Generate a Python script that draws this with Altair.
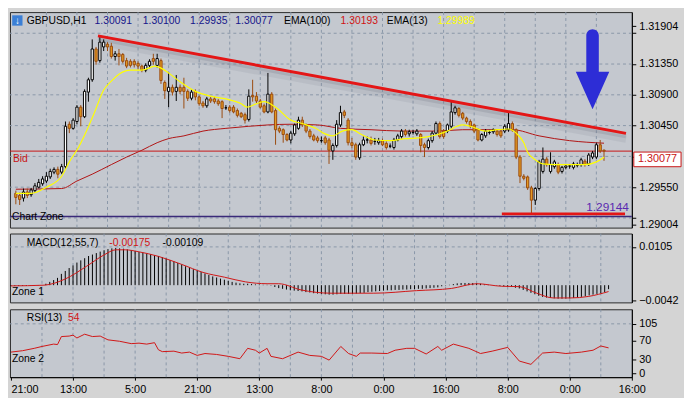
import altair as alt
import pandas as pd
import numpy as np

# ---------------- data ----------------
opens = [1.2946,1.2943,1.2939,1.2948,1.2944,1.2950,1.2955,1.2960,1.2964,1.2970,
         1.2977,1.2981,1.2977,1.2985,1.3047,1.3041,1.3051,1.3072,1.3058,1.3094,
         1.3112,1.3157,1.3140,1.3160,1.3164,1.3161,1.3146,1.3150,1.3149,1.3140,
         1.3139,1.3139,1.3136,1.3132,1.3126,1.3133,1.3143,1.3133,1.3140,1.3108,
         1.3095,1.3101,1.3095,1.3101,1.3101,1.3095,1.3085,1.3095,1.3087,1.3078,
         1.3074,1.3084,1.3084,1.3081,1.3080,1.3071,1.3072,1.3072,1.3067,1.3063,
         1.3061,1.3054,1.3089,1.3088,1.3081,1.3074,1.3065,1.3091,1.3067,1.3041,
         1.3039,1.3032,1.3024,1.3033,1.3041,1.3053,1.3046,1.3037,1.3030,1.3027,
         1.3023,1.3027,1.3024,1.3008,1.3016,1.3046,1.3065,1.3053,1.3020,1.3017,
         1.2998,1.3017,1.3024,1.3024,1.3022,1.3020,1.3023,1.3019,1.3015,1.3013,
         1.3024,1.3029,1.3037,1.3033,1.3035,1.3033,1.3032,1.3017,1.3013,1.3023,
         1.3034,1.3048,1.3037,1.3037,1.3044,1.3064,1.3070,1.3063,1.3056,1.3051,
         1.3046,1.3039,1.3024,1.3030,1.3035,1.3036,1.3037,1.3037,1.3037,1.3039,
         1.3048,1.3039,1.2999,1.2971,1.2970,1.2954,1.2936,1.2953,1.2978,1.2996,
         1.2978,1.2985,1.2988,1.2978,1.2984,1.2986,1.2984,1.2987,1.2988,1.2993,
         1.2989,1.2999,1.2999,1.3017,1.30091]
highs = [1.2950,1.2947,1.2953,1.2953,1.2954,1.2961,1.2967,1.2971,1.2977,1.2982,
         1.2984,1.2985,1.2989,1.3051,1.3051,1.3056,1.3075,1.3075,1.3098,1.3115,
         1.3171,1.3160,1.3175,1.3171,1.3167,1.3166,1.3154,1.3157,1.3151,1.3144,
         1.3142,1.3142,1.3139,1.3134,1.3136,1.3142,1.3150,1.3150,1.3143,1.3111,
         1.3123,1.3105,1.3119,1.3105,1.3115,1.3098,1.3098,1.3098,1.3089,1.3081,
         1.3087,1.3087,1.3087,1.3084,1.3082,1.3075,1.3075,1.3075,1.3070,1.3065,
         1.3064,1.3098,1.3112,1.3094,1.3084,1.3077,1.3122,1.3094,1.3070,1.3044,
         1.3041,1.3034,1.3037,1.3048,1.3058,1.3058,1.3048,1.3040,1.3033,1.3030,
         1.3029,1.3030,1.3027,1.3019,1.3053,1.3074,1.3068,1.3056,1.3027,1.3020,
         1.3020,1.3029,1.3029,1.3029,1.3027,1.3027,1.3026,1.3022,1.3019,1.3027,
         1.3033,1.3040,1.3040,1.3039,1.3039,1.3040,1.3034,1.3020,1.3026,1.3037,
         1.3051,1.3051,1.3040,1.3048,1.3080,1.3074,1.3072,1.3065,1.3058,1.3054,
         1.3048,1.3041,1.3034,1.3040,1.3039,1.3041,1.3040,1.3040,1.3047,1.3065,
         1.3051,1.3041,1.3002,1.2974,1.2972,1.2957,1.2955,1.2995,1.3013,1.2999,
         1.3006,1.2995,1.2991,1.2986,1.2989,1.2989,1.2992,1.2991,1.2998,1.2996,
         1.3005,1.3008,1.3020,1.3024,1.30100]
lows = [1.2930,1.2929,1.2934,1.2939,1.2941,1.2947,1.2953,1.2957,1.2961,1.2967,
        1.2974,1.2968,1.2974,1.2982,1.3034,1.3039,1.3047,1.3044,1.3056,1.3080,
        1.3109,1.3134,1.3137,1.3154,1.3154,1.3143,1.3140,1.3133,1.3136,1.3129,
        1.3130,1.3130,1.3127,1.3123,1.3123,1.3129,1.3134,1.3130,1.3106,1.3084,
        1.3072,1.3089,1.3081,1.3091,1.3070,1.3081,1.3082,1.3082,1.3074,1.3071,
        1.3071,1.3078,1.3077,1.3074,1.3056,1.3068,1.3064,1.3063,1.3057,1.3056,
        1.3048,1.3051,1.3080,1.3078,1.3070,1.3063,1.3063,1.3063,1.3017,1.3034,
        1.3020,1.3022,1.3019,1.3030,1.3039,1.3043,1.3034,1.3026,1.3022,1.3020,
        1.3020,1.3017,1.2989,1.2995,1.3013,1.3043,1.3056,1.3016,1.3012,1.2995,
        1.2995,1.3015,1.3019,1.3016,1.3017,1.3017,1.3015,1.3010,1.3012,1.3010,
        1.3022,1.3026,1.3029,1.3029,1.3032,1.3030,1.3006,1.2999,1.3010,1.3020,
        1.3032,1.3026,1.3026,1.3034,1.3041,1.3061,1.3057,1.3053,1.3048,1.3041,
        1.3034,1.3022,1.3022,1.3027,1.3032,1.3033,1.3029,1.3027,1.3034,1.3036,
        1.3036,1.2996,1.2961,1.2965,1.2951,1.29144,1.2929,1.2950,1.2975,1.2985,
        1.2975,1.2982,1.2974,1.2975,1.2981,1.2982,1.2981,1.2984,1.2985,1.2985,
        1.2986,1.2996,1.2996,1.3005,1.29935]
closes = [1.2940,1.2937,1.2948,1.2943,1.2951,1.2957,1.2962,1.2967,1.2971,1.2978,
          1.2981,1.2974,1.2985,1.3044,1.3041,1.3053,1.3072,1.3058,1.3095,1.3112,
          1.3157,1.3139,1.3167,1.3167,1.3160,1.3146,1.3150,1.3146,1.3139,1.3132,
          1.3133,1.3134,1.3132,1.3126,1.3133,1.3139,1.3139,1.3143,1.3111,1.3096,
          1.3101,1.3094,1.3101,1.3095,1.3095,1.3085,1.3094,1.3087,1.3077,1.3074,
          1.3084,1.3081,1.3080,1.3077,1.3070,1.3071,1.3067,1.3065,1.3060,1.3058,
          1.3053,1.3088,1.3087,1.3081,1.3072,1.3065,1.3091,1.3065,1.3039,1.3037,
          1.3032,1.3024,1.3034,1.3046,1.3053,1.3046,1.3037,1.3029,1.3024,1.3023,
          1.3023,1.3020,1.3009,1.3016,1.3047,1.3064,1.3060,1.3020,1.3016,1.2999,
          1.3017,1.3024,1.3024,1.3019,1.3022,1.3023,1.3017,1.3013,1.3015,1.3024,
          1.3030,1.3037,1.3032,1.3036,1.3035,1.3037,1.3016,1.3013,1.3023,1.3034,
          1.3048,1.3029,1.3029,1.3046,1.3065,1.3071,1.3060,1.3056,1.3051,1.3044,
          1.3037,1.3024,1.3032,1.3037,1.3035,1.3039,1.3032,1.3030,1.3044,1.3048,
          1.3039,1.2999,1.2971,1.2968,1.2954,1.2936,1.2953,1.2992,1.2996,1.2988,
          1.2988,1.2992,1.2977,1.2984,1.2986,1.2986,1.2989,1.2987,1.2995,1.2988,
          1.3002,1.3005,1.3017,1.3008,1.30077]

ema100_idx = [0, 12, 16, 20, 25, 29, 33, 37, 40, 44, 49, 55, 61, 66, 72, 79, 85, 93,
              101, 110, 117, 124, 130, 137, 145, 154]
ema100_val = [1.2952, 1.2953, 1.2964, 1.2974, 1.2988, 1.2999, 1.3009, 1.3020, 1.3026,
              1.3030, 1.3037, 1.3041, 1.3044, 1.3046, 1.3047, 1.3046, 1.3041, 1.3039,
              1.3037, 1.3037, 1.3039, 1.3039, 1.3039, 1.3030, 1.3023, 1.30193]

ema13_idx = [0, 4, 8, 12, 14, 16.5, 18.5, 20.5, 23, 25, 27, 30, 33, 36.5, 38, 40, 43, 47,
             51, 55, 59, 60.5, 63, 65, 68, 72, 75, 78.5, 80.5, 83, 85.5, 88, 90.5, 94,
             98, 102, 105.5, 108, 110.5, 113, 115.5, 117, 119, 123, 126, 129, 131, 133,
             134, 136, 138, 141, 145, 149, 152, 154]
ema13_val = [1.2946, 1.2946, 1.2955, 1.2971, 1.2992, 1.3014, 1.3037, 1.3063, 1.3097,
             1.3110, 1.3120, 1.3126, 1.3126, 1.3132, 1.3129, 1.3122, 1.3109, 1.3095,
             1.3088, 1.3084, 1.3077, 1.3072, 1.3077, 1.3080, 1.3072, 1.3053, 1.3048,
             1.3041, 1.3034, 1.3030, 1.3037, 1.3039, 1.3032, 1.3024, 1.3023, 1.3026,
             1.3027, 1.3029, 1.3032, 1.3037, 1.3044, 1.3046, 1.3044, 1.3037, 1.3039,
             1.3040, 1.3034, 1.3020, 1.3006, 1.2995, 1.2989, 1.2988, 1.2988, 1.2988,
             1.2992, 1.29989]

trend_idx = [21.5, 159.75]
trend_val = [1.31762, 1.30337]
support_idx = [127.25, 159.5]
support_val = [1.29160, 1.29160]
zone_line = 1.29120
low_mark = 1.29144
bid_price = closes[-1]
main_grid = [1.3180, 1.3135, 1.3090, 1.3045, 1.3000, 1.2955, 1.2910]
main_ticks = [1.31904, 1.3180, 1.3135, 1.3090, 1.3045, 1.3000, 1.2955, 1.2910, 1.29004]
main_labels = ["1.31904", "1.31350", "1.30900", "1.30450", "1.29550", "1.29004"]

macd_hist = [-0.0002,-0.0002,-0.0002,-0.0002,-0.0002,-0.0001,-0.0001,-0.0001,0.0000,0.0004,
             0.0009,0.0014,0.0020,0.0031,0.0039,0.0047,0.0054,0.0062,0.0068,0.0074,
             0.0080,0.0084,0.0088,0.0092,0.0096,0.0099,0.0101,0.0102,0.0101,0.0100,
             0.0098,0.0096,0.0094,0.0091,0.0089,0.0087,0.0085,0.0082,0.0080,0.0077,
             0.0073,0.0069,0.0065,0.0061,0.0057,0.0052,0.0048,0.0044,0.0040,0.0036,
             0.0032,0.0028,0.0024,0.0021,0.0018,0.0015,0.0012,0.0009,0.0007,0.0005,
             0.0004,0.0004,0.0003,0.0002,0.0002,0.0001,0.0001,-0.0001,-0.0005,-0.0008,
             -0.0010,-0.0012,-0.0014,-0.0015,-0.0016,-0.0017,-0.0019,-0.0020,-0.0022,-0.0023,
             -0.0024,-0.0025,-0.0026,-0.0026,-0.0025,-0.0024,-0.0024,-0.0024,-0.0024,-0.0023,
             -0.0022,-0.0021,-0.0019,-0.0018,-0.0017,-0.0016,-0.0015,-0.0014,-0.0014,-0.0013,
             -0.0013,-0.0012,-0.0012,-0.0011,-0.0011,-0.0010,-0.0010,-0.0009,-0.0008,-0.0007,
             -0.0006,-0.0003,-0.0001,0.0001,0.0003,0.0005,0.0006,0.0006,0.0006,0.0006,
             0.0005,0.0004,0.0002,0.0001,0.0000,-0.0001,-0.0002,-0.0003,-0.0004,-0.0005,
             -0.0007,-0.0009,-0.0013,-0.0017,-0.0021,-0.0025,-0.0029,-0.0032,-0.0034,-0.0035,
             -0.0036,-0.0037,-0.0037,-0.0037,-0.0036,-0.0035,-0.0034,-0.0032,-0.0030,-0.0028,
             -0.0026,-0.0024,-0.0022,-0.0019,-0.00109]
sig_idx = [0, 8.5, 14, 19.5, 24, 27, 29.5, 32.75, 38, 44, 49.5, 55, 60.5, 66, 69, 74.75,
           82.5, 93.5, 104.5, 113.5, 120, 126.5, 131, 135.5, 139.75, 144.25, 148.75, 154]
sig_val = [-0.0002, 0.0, 0.0017, 0.0052, 0.0083, 0.0097, 0.0097, 0.0092, 0.0079, 0.0057,
           0.0035, 0.0022, 0.0009, 0.0004, 0.0004, -0.0013, -0.0022, -0.0022, -0.0015,
           -0.0009, 0.0004, -0.0003, -0.0004, -0.0022, -0.0035, -0.0035, -0.0031, -0.00175]

rsi_idx = [0, 3, 6, 8, 11, 12, 13, 15, 16, 17, 19, 21, 23, 25, 28, 31, 33, 35, 37, 38,
           39, 42, 44, 46, 48, 50, 53, 56, 59, 61, 63, 64, 66, 67, 70, 74, 77, 80, 82, 85,
           87, 89, 90, 93, 97, 99, 102, 104, 107, 110, 111, 114, 118, 121, 124, 128, 131,
           134, 137, 140, 143, 147, 150, 152, 154]
rsi_val = [45, 48, 53, 57, 62, 61, 78, 79, 81, 75, 83, 78, 79, 71, 68, 63, 64, 62, 65, 50,
           46, 47, 43, 45, 38, 42, 40, 36, 31, 53, 49, 43, 53, 36, 31, 45, 38, 36, 28, 57,
           42, 36, 43, 43, 42, 49, 53, 53, 41, 57, 49, 62, 53, 42, 47, 55, 26, 19, 43, 45,
           42, 45, 49, 58, 54]

time_ticks = [0, 16, 32, 48, 64, 80, 96, 112, 128, 144, 160]
time_labels = ["21:00", "13:00", "5:00", "21:00", "13:00", "8:00", "0:00", "16:00",
               "8:00", "0:00", "16:00"]
vgrid = [8, 16, 24, 32, 40, 48, 56, 64, 72, 80, 88, 96, 104, 112, 120, 128, 136, 144, 152]

# ---------------- styling ----------------
FONT = "Liberation Sans"
FS = 10.5
FA = 11
BG = "#d4d4d4"
PANEL = "#c4c8cf"
GRID = "#8a97a8"
W = 632
H1, H2, H3 = 219, 70, 69

df = pd.DataFrame({"i": list(range(len(closes))), "open": opens, "high": highs,
                   "low": lows, "close": closes})
df["dir"] = np.where(df["close"] > df["open"], "up",
                     np.where(df["close"] < df["open"], "down", "flat"))

XS = alt.Scale(domain=[-0.25, 160], nice=False, zero=False)
XN = alt.X("i:Q", scale=XS, axis=None)

Y1S = alt.Scale(domain=[1.28959, 1.32109], nice=False, zero=False)
lab_arr = "[" + ",".join("'%s'" % s for s in main_labels) + "]"
Y1AX = alt.Axis(orient="right", values=main_ticks, format=".5f", title=None, grid=False,
                labelExpr="indexof(%s, datum.label) >= 0 ? datum.label : ''" % lab_arr,
                labelOverlap=False, tickSize=4, labelPadding=3)


def Y1(field):
    return alt.Y(field + ":Q", scale=Y1S, axis=Y1AX)


one = pd.DataFrame({"k": [0]})


def label(text, x, y, color="#000000", align="left", size=FS, weight="normal"):
    return alt.Chart(one).mark_text(text=text, align=align, baseline="middle", font=FONT,
                                    fontSize=size, color=color, fontWeight=weight).encode(
        x=alt.value(x), y=alt.value(y))


dir_dom = ["up", "down", "flat"]
stroke_scale = alt.Scale(domain=dir_dom, range=["#000000", "#9a4a0e", "#000000"])
fill_scale = alt.Scale(domain=dir_dom, range=["#ffffff", "#e29a22", "#000000"])

vg = alt.Chart(pd.DataFrame({"i": vgrid})).mark_rule(color=GRID, strokeDash=[3, 3],
                                                     strokeWidth=1)

# ---------------- main panel ----------------
trend_df = pd.DataFrame({"i": trend_idx, "p": trend_val})
m_vgrid = vg.encode(x=XN)
m_hgrid = alt.Chart(pd.DataFrame({"p": main_grid})).mark_rule(
    color=GRID, strokeDash=[3, 3], strokeWidth=1).encode(y=Y1("p"))
m_shadow1 = alt.Chart(trend_df).mark_line(
    color="#6e7480", strokeWidth=7, opacity=0.12, yOffset=6).encode(x=XN, y=Y1("p"))
m_shadow2 = alt.Chart(trend_df).mark_line(
    color="#6e7480", strokeWidth=4, opacity=0.22, yOffset=3).encode(x=XN, y=Y1("p"))
m_bid = alt.Chart(pd.DataFrame({"p": [bid_price]})).mark_rule(
    color="#c81414", strokeWidth=1).encode(y=Y1("p"))
m_zone = alt.Chart(pd.DataFrame({"p": [zone_line]})).mark_rule(
    color="#3a2a7a", strokeWidth=1.5).encode(y=Y1("p"))
m_ema100 = alt.Chart(pd.DataFrame({"i": ema100_idx, "p": ema100_val})).mark_line(
    color="#b01212", strokeWidth=1, interpolate="monotone").encode(x=XN, y=Y1("p"))
m_ema13 = alt.Chart(pd.DataFrame({"i": ema13_idx, "p": ema13_val})).mark_line(
    color="#ffff00", strokeWidth=1.2, interpolate="monotone").encode(x=XN, y=Y1("p"))
m_wick = alt.Chart(df).mark_rule(strokeWidth=1).encode(
    x=XN, y=Y1("low"), y2="high:Q",
    stroke=alt.Stroke("dir:N", scale=stroke_scale, legend=None))
m_body = alt.Chart(df).mark_bar(size=2.3, strokeWidth=1).encode(
    x=XN, y=Y1("open"), y2="close:Q",
    fill=alt.Fill("dir:N", scale=fill_scale, legend=None),
    stroke=alt.Stroke("dir:N", scale=stroke_scale, legend=None))
m_trend = alt.Chart(trend_df).mark_line(
    color="#e41616", strokeWidth=3).encode(x=XN, y=Y1("p"))
m_support = alt.Chart(pd.DataFrame({"i": support_idx, "p": support_val})).mark_line(
    color="#e41616", strokeWidth=3).encode(x=XN, y=Y1("p"))

arrow_path = ("M-0.157,-0.85 A0.157,0.157 0 0 1 0.157,-0.85 L0.157,0.06 L0.42,0.06 "
              "L0,1 L-0.42,0.06 L-0.157,0.06 Z")
m_arrow = alt.Chart(pd.DataFrame({"i": [151], "p": [1.31273]})).mark_point(
    shape=arrow_path, size=6561, filled=True, color="#2d2dd6", opacity=1).encode(
    x=XN, y=Y1("p"))

tag_path = "M-1,0.04 L1,0.04 L1,0.66 L-1,0.66 Z"
bid_df = pd.DataFrame({"p": [bid_price], "t": ["%.5f" % bid_price]})
m_tagbox = alt.Chart(bid_df).mark_point(
    shape=tag_path, size=2304, filled=True, fill="#ffffff", stroke="#c81414",
    strokeWidth=1, opacity=1).encode(x=alt.value(W + 26), y=Y1("p"))
m_tagtxt = alt.Chart(bid_df).mark_text(font=FONT, fontSize=FA, color="#c81414",
                                       align="center", baseline="middle", dy=8).encode(
    x=alt.value(W + 26), y=Y1("p"), text="t:N")
m_bidtxt = alt.Chart(bid_df).mark_text(text="Bid", font=FONT, fontSize=FS, color="#c81414",
                                       align="left", baseline="middle", dy=8).encode(
    x=alt.value(3), y=Y1("p"))
low_df = pd.DataFrame({"p": [low_mark], "t": ["%.5f" % low_mark]})
m_lowtxt = alt.Chart(low_df).mark_text(font=FONT, fontSize=12, color="#5a2ab0",
                                       align="right", baseline="middle", dy=-8).encode(
    x=alt.value(W - 3), y=Y1("p"), text="t:N")

m_icon = alt.Chart(one).mark_point(shape="square", size=110, filled=True, color="#3b7fd6",
                                   opacity=1).encode(x=alt.value(7.5), y=alt.value(8.5))
m_icon_arrow = label("\u2193", 7.5, 9, color="#ffffff", align="center", size=10,
                     weight="bold")

header = [
    ("GBPUSD,H1", 17, "#000000"),
    ("%.5f" % opens[-1], 86, "#16168a"),
    ("%.5f" % highs[-1], 135, "#16168a"),
    ("%.5f" % lows[-1], 183, "#16168a"),
    ("%.5f" % closes[-1], 229, "#16168a"),
    ("EMA(100)", 278.5, "#000000"),
    ("%.5f" % ema100_val[-1], 336, "#d01414"),
    ("EMA(13)", 383, "#000000"),
    ("%.5f" % ema13_val[-1], 434.5, "#ffff00"),
]
m_header = [label(t, x, 9, color=c) for t, x, c in header]
m_chartzone = label("Chart Zone", 2, 208)

main = alt.layer(m_vgrid, m_hgrid, m_shadow1, m_shadow2, m_ema100, m_bid, m_zone, m_wick,
                 m_body, m_ema13, m_trend, m_support, m_arrow, m_tagbox, m_tagtxt,
                 m_bidtxt, m_lowtxt, m_icon, m_icon_arrow, m_chartzone,
                 *m_header).properties(width=W, height=H1)

# ---------------- MACD panel ----------------
Y2S = alt.Scale(domain=[-0.00472, 0.01417], nice=False, zero=False)
Y2AX = alt.Axis(orient="right", values=[0.0105, -0.0042], format=".4f", title=None,
                grid=False, tickSize=4, labelPadding=3, labelOverlap=False)
macd_df = pd.DataFrame({"i": list(range(len(macd_hist))), "m": macd_hist})
d_vgrid = vg.encode(x=XN)
d_hgrid = alt.Chart(pd.DataFrame({"v": [0.0105]})).mark_rule(
    color=GRID, strokeDash=[3, 3], strokeWidth=1).encode(
    y=alt.Y("v:Q", scale=Y2S, axis=Y2AX))
d_hist = alt.Chart(macd_df).mark_rule(color="#000000", strokeWidth=1).encode(
    x=XN, y=alt.Y("m:Q", scale=Y2S, axis=Y2AX), y2=alt.datum(0))
d_sig = alt.Chart(pd.DataFrame({"i": sig_idx, "v": sig_val})).mark_line(
    color="#d01414", strokeWidth=1, interpolate="monotone").encode(
    x=XN, y=alt.Y("v:Q", scale=Y2S, axis=Y2AX))
d_texts = [label("MACD(12,55,7)", 17, 10),
           label("%.5f" % sig_val[-1], 101, 10, color="#d01414"),
           label("%.5f" % macd_hist[-1], 155, 10),
           label("Zone 1", 2, 59)]
macd = alt.layer(d_vgrid, d_hgrid, d_hist, d_sig, *d_texts).properties(width=W, height=H2)

# ---------------- RSI panel ----------------
Y3S = alt.Scale(domain=[-8.2, 135.9], nice=False, zero=False)
Y3AX = alt.Axis(orient="right", values=[105, 70, 30, 0], format="d", title=None,
                grid=False, tickSize=4, labelPadding=3, labelOverlap=False)
tl_arr = "[" + ",".join("'%s'" % s for s in time_labels) + "]"
XAX = alt.Axis(values=time_ticks, labelExpr="%s[round(datum.value / 16)]" % tl_arr,
               title=None, grid=False, tickSize=3, labelPadding=4, labelOverlap=False,
               labelAlign={"condition": {"test": "datum.value == 0", "value": "left"},
                           "value": "center"})
XR = alt.X("i:Q", scale=XS, axis=XAX)
r_vgrid = vg.encode(x=XR)
r_hgrid = alt.Chart(pd.DataFrame({"v": [105]})).mark_rule(
    color=GRID, strokeDash=[3, 3], strokeWidth=1).encode(
    y=alt.Y("v:Q", scale=Y3S, axis=Y3AX))
r_line = alt.Chart(pd.DataFrame({"i": rsi_idx, "v": rsi_val})).mark_line(
    color="#d01414", strokeWidth=1).encode(x=XR, y=alt.Y("v:Q", scale=Y3S, axis=Y3AX))
r_texts = [label("RSI(13)", 17, 9),
           label("%d" % rsi_val[-1], 59, 9, color="#d01414"),
           label("Zone 2", 2, 51)]
rsi = alt.layer(r_vgrid, r_hgrid, r_line, *r_texts).properties(width=W, height=H3)

chart = (alt.vconcat(main, macd, rsi, spacing=2)
         .resolve_scale(y="independent")
         .configure(background=BG, padding={"left": 0, "top": 0, "right": 0, "bottom": 0})
         .configure_view(fill=PANEL, stroke="#2a2a2a", strokeWidth=1)
         .configure_axis(labelFont=FONT, labelFontSize=FA, labelColor="#000000",
                         tickColor="#000000", domainColor="#000000", domainWidth=1))

chart.save("out.html", embed_options={"renderer": "svg", "actions": False})
